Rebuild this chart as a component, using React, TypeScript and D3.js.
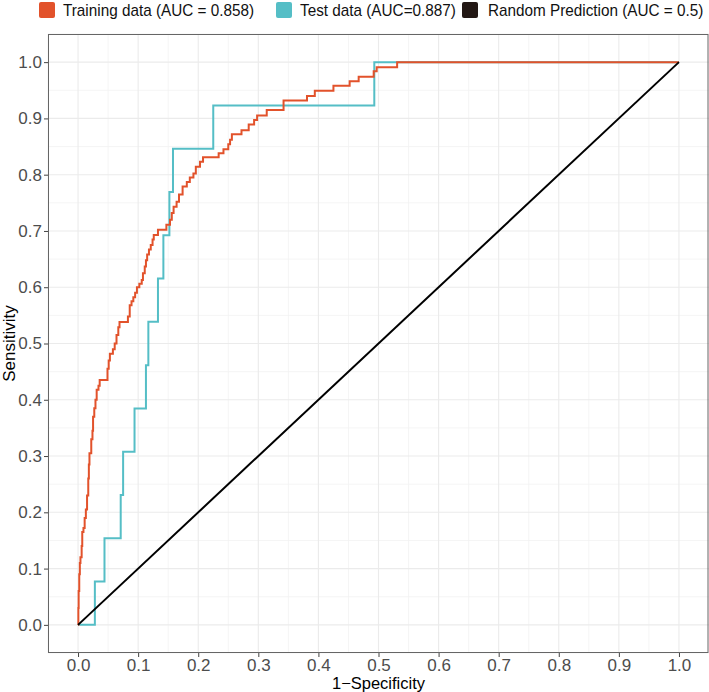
import React, { useEffect, useRef } from "react";
import * as d3 from "d3";

// ROC curve vertices: [false positive rate, true positive rate]
const trainingFpr = [
  0, 0.0005, 0.001, 0.002, 0.003, 0.004, 0.006, 0.007, 0.009, 0.011, 0.013, 0.015, 0.017, 0.018, 0.019,
  0.022, 0.024, 0.025, 0.027, 0.029, 0.031, 0.034, 0.036, 0.049, 0.051, 0.053, 0.058, 0.061, 0.064,
  0.067, 0.069, 0.083, 0.086, 0.089, 0.092, 0.095, 0.098, 0.102, 0.106, 0.108, 0.111, 0.113, 0.115,
  0.118, 0.121, 0.124, 0.126, 0.133, 0.147, 0.153, 0.156, 0.159, 0.164, 0.168, 0.174, 0.181, 0.186,
  0.192, 0.196, 0.203, 0.208, 0.234, 0.242, 0.25, 0.253, 0.256, 0.272, 0.284, 0.293, 0.298, 0.314,
  0.342, 0.381, 0.394, 0.425, 0.452, 0.467, 0.492, 0.497, 0.531, 1.0,
];
const trainingTpr = [
  0, 0.03, 0.06, 0.09, 0.11, 0.12, 0.14, 0.165, 0.172, 0.19, 0.205, 0.23, 0.26, 0.285, 0.305,
  0.33, 0.345, 0.37, 0.385, 0.4, 0.418, 0.425, 0.435, 0.455, 0.47, 0.482, 0.49, 0.5, 0.515,
  0.529, 0.538, 0.548, 0.568, 0.575, 0.582, 0.59, 0.6, 0.606, 0.613, 0.625, 0.637, 0.648, 0.658,
  0.667, 0.675, 0.685, 0.693, 0.702, 0.711, 0.72, 0.732, 0.743, 0.752, 0.765, 0.779, 0.787, 0.795,
  0.802, 0.814, 0.823, 0.831, 0.838, 0.845, 0.854, 0.862, 0.872, 0.879, 0.889, 0.897, 0.905, 0.915,
  0.932, 0.94, 0.949, 0.958, 0.966, 0.974, 0.984, 0.991, 1.0, 1.0,
];
const testFpr = [0, 0.028, 0.044, 0.071, 0.075, 0.094, 0.113, 0.117, 0.133, 0.142, 0.152, 0.158, 0.225, 0.493, 1.0];
const testTpr = [0, 1 / 13, 2 / 13, 3 / 13, 4 / 13, 5 / 13, 6 / 13, 7 / 13, 8 / 13, 9 / 13, 10 / 13, 11 / 13, 12 / 13, 1, 1];
const randomFpr = [0, 1];
const randomTpr = [0, 1];

const legendLabels = ["Training data (AUC = 0.858)", "Test data (AUC=0.887)", "Random Prediction (AUC = 0.5)"];
const majorTicks = [0, 0.1, 0.2, 0.3, 0.4, 0.5, 0.6, 0.7, 0.8, 0.9, 1.0];
const minorTicks = [-0.05, 0.05, 0.15, 0.25, 0.35, 0.45, 0.55, 0.65, 0.75, 0.85, 0.95, 1.05];
const xTitle = "1\u2212Specificity";
const yTitle = "Sensitivity";

const W = 709;
const H = 692;
const FONT = "'Liberation Sans', Arial, Helvetica, sans-serif";
const colors = ["#E2522B", "#55BEC6", "#000000"];
const keyColors = ["#E2522B", "#55BEC6", "#231815"];

export default function App() {
  const ref = useRef<SVGSVGElement>(null);

  useEffect(() => {
    const svg = d3.select(ref.current);
    svg.selectAll("*").remove();

    const panel = { left: 48, right: 709, top: 34, bottom: 653 };
    const x = d3.scaleLinear().domain([-0.05, 1.05]).range([panel.left, panel.right]);
    const y = d3.scaleLinear().domain([-0.05, 1.05]).range([panel.bottom, panel.top]);

    svg.append("rect").attr("x", panel.left).attr("y", panel.top)
      .attr("width", panel.right - panel.left).attr("height", panel.bottom - panel.top).attr("fill", "#fff");

    // grid: minor first, then major
    const grid = svg.append("g");
    minorTicks.forEach((t) => {
      grid.append("line").attr("x1", x(t)).attr("x2", x(t)).attr("y1", panel.top).attr("y2", panel.bottom)
        .attr("stroke", "#F2F2F2").attr("stroke-width", 0.8);
      grid.append("line").attr("y1", y(t)).attr("y2", y(t)).attr("x1", panel.left).attr("x2", panel.right)
        .attr("stroke", "#F2F2F2").attr("stroke-width", 0.8);
    });
    majorTicks.forEach((t) => {
      grid.append("line").attr("x1", x(t)).attr("x2", x(t)).attr("y1", panel.top).attr("y2", panel.bottom)
        .attr("stroke", "#EBEBEB").attr("stroke-width", 1.1);
      grid.append("line").attr("y1", y(t)).attr("y2", y(t)).attr("x1", panel.left).attr("x2", panel.right)
        .attr("stroke", "#EBEBEB").attr("stroke-width", 1.1);
    });

    const line = d3.line<[number, number]>()
      .x((d) => x(d[0]))
      .y((d) => y(d[1]))
      .curve(d3.curveStepAfter);

    const series: [number[], number[]][] = [
      [testFpr, testTpr],
      [trainingFpr, trainingTpr],
    ];
    const seriesColor = [colors[1], colors[0]];
    series.forEach(([fx, ty], i) => {
      const pts = fx.map((v, j) => [v, ty[j]] as [number, number]);
      svg.append("path").attr("d", line(pts)).attr("fill", "none")
        .attr("stroke", seriesColor[i]).attr("stroke-width", 2).attr("stroke-linejoin", "miter");
    });

    const diag = d3.line<[number, number]>().x((d) => x(d[0])).y((d) => y(d[1]));
    svg.append("path")
      .attr("d", diag(randomFpr.map((v, j) => [v, randomTpr[j]] as [number, number])))
      .attr("fill", "none").attr("stroke", colors[2]).attr("stroke-width", 2);

    // panel border
    svg.append("rect").attr("x", panel.left + 0.5).attr("y", panel.top + 0.5)
      .attr("width", panel.right - panel.left - 1.5).attr("height", panel.bottom - panel.top - 1)
      .attr("fill", "none").attr("stroke", "#666").attr("stroke-width", 1);

    // axes
    const fmt = d3.format(".1f");
    const xAxis = svg.append("g").attr("transform", `translate(0,${panel.bottom})`)
      .call(d3.axisBottom(x).tickValues(majorTicks).tickFormat((d) => fmt(d as number)).tickSize(4).tickPadding(2));
    const yAxis = svg.append("g").attr("transform", `translate(${panel.left},0)`)
      .call(d3.axisLeft(y).tickValues(majorTicks).tickFormat((d) => fmt(d as number)).tickSize(4).tickPadding(2));
    [xAxis, yAxis].forEach((a) => {
      a.select(".domain").remove();
      a.selectAll(".tick line").attr("stroke", "#444").attr("stroke-width", 1);
      a.selectAll(".tick text").attr("fill", "#4D4D4D").style("font-family", FONT).style("font-size", "17px");
    });

    svg.append("text").attr("x", x(0.5)).attr("y", 689).attr("text-anchor", "middle")
      .style("font-family", FONT).style("font-size", "16.5px").attr("fill", "#000").text(xTitle);
    svg.append("text").attr("transform", `translate(15,${(panel.top + panel.bottom) / 2}) rotate(-90)`)
      .attr("text-anchor", "middle").style("font-family", FONT).style("font-size", "17px")
      .attr("fill", "#000").text(yTitle);

    // legend: slightly tall, narrow text
    const keyX = [39, 276, 462];
    const textX = [63, 300, 488];
    const legend = svg.append("g");
    legendLabels.forEach((lab, i) => {
      legend.append("rect").attr("x", keyX[i]).attr("y", 2).attr("width", 16).attr("height", 16)
        .attr("rx", 2).attr("fill", keyColors[i]);
      legend.append("text").attr("transform", `translate(${textX[i]},16) scale(1,1.07)`)
        .style("font-family", FONT).style("font-size", "15.3px").attr("fill", "#111").text(lab);
    });
  }, []);

  return (
    <div style={{ position: "fixed", left: 0, top: 0, background: "#fff" }}>
      <svg ref={ref} width={W} height={H} style={{ display: "block" }} />
    </div>
  );
}
